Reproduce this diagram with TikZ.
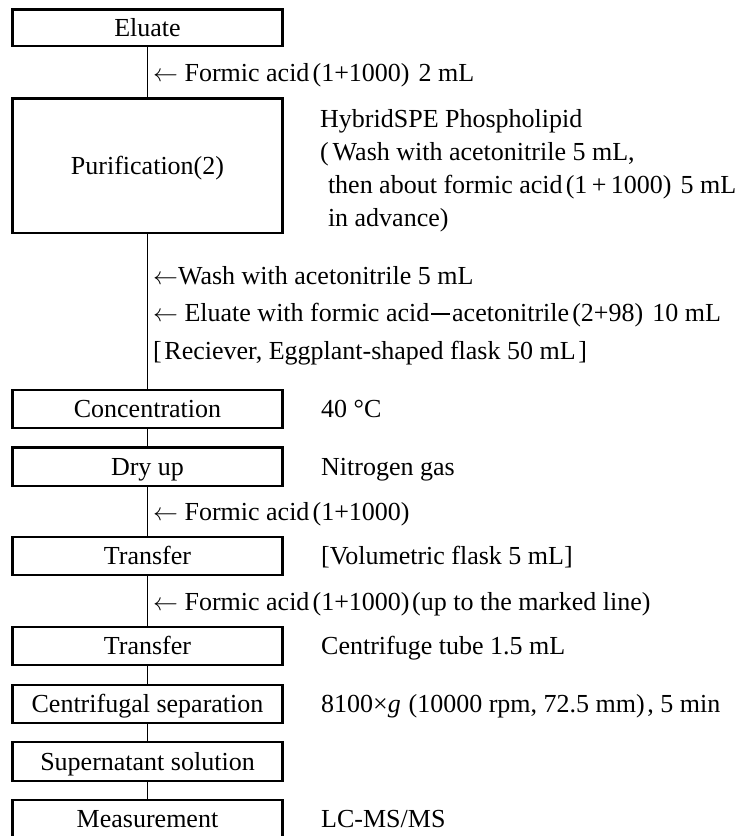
\documentclass[tikz,border=0pt]{standalone}
\usepackage{fontspec}
\setmainfont{Liberation Serif}
\newcommand{\lpar}{\hspace{0.12em}(}
\newcommand{\rpar}{)\hspace{0.35em}}
\newcommand{\larr}{$\leftarrow$}
\newcommand{\fwminus}{\hspace{0.08em}\rule[0.27em]{0.72em}{0.05em}\hspace{0.08em}}
\begin{document}
\begin{tikzpicture}[x=1pt,y=-1pt,
  every node/.style={font=\fontsize{26}{33}\selectfont, inner sep=0pt, text height=17.2pt, text depth=0pt},
  stepbox/.style={draw, line width=2.1pt, minimum width=270pt},
  note/.style={anchor=west},
  multiline/.style={anchor=north west, align=left, text height=, text depth=},
  conn/.style={line width=1.9pt}]
\useasboundingbox[fill=white] (0,0) rectangle (752,836);
\node[stepbox, minimum height=36.5pt] (eluate) at (147.5,27.75) {Eluate};
\node[stepbox, minimum height=134.5pt] (purif) at (147.5,165.75) {Purification(2)};
\node[stepbox, minimum height=38pt] (conc) at (147.5,409) {Concentration};
\node[stepbox, minimum height=38.5pt] (dry) at (147.5,466.75) {Dry up};
\node[stepbox, minimum height=38pt] (trans1) at (147.5,556) {Transfer};
\node[stepbox, minimum height=38pt] (trans2) at (147.5,646) {Transfer};
\node[stepbox, minimum height=38pt] (centri) at (147.5,704) {Centrifugal separation};
\node[stepbox, minimum height=39pt] (super) at (147.5,761.5) {Supernatant solution};
\node[stepbox, minimum height=38pt] (meas) at (147.5,819) {Measurement};

\draw[conn] (eluate) -- (purif);
\draw[conn] (purif) -- (conc);
\draw[conn] (conc) -- (dry);
\draw[conn] (dry) -- (trans1);
\draw[conn] (trans1) -- (trans2);
\draw[conn] (trans2) -- (centri);
\draw[conn] (centri) -- (super);
\draw[conn] (super) -- (meas);

\node[note] (add1) at (153,73) {\larr{} Formic acid\lpar 1+1000\rpar 2 mL};
\node[multiline, font=\fontsize{26}{33}\selectfont] (cart) at (320,109)
  {HybridSPE Phospholipid\\
   (\hspace{0.15em}Wash with acetonitrile 5 mL,\\
   \hspace{0.3em}then about formic acid\lpar 1\,+\,1000\rpar 5 mL\\
   \hspace{0.3em}in advance)};
\node[multiline, font=\fontsize{26}{37.5}\selectfont] (wash) at (153,266)
  {\larr Wash with acetonitrile 5 mL\\
   \larr{} Eluate with formic acid\fwminus acetonitrile\lpar 2+98\rpar 10 mL\\
   {[}\hspace{0.1em}Reciever, Eggplant-shaped flask 50 mL\hspace{0.1em}{]}};
\node[note] (temp) at (321,409) {40 °C};
\node[note] (gas) at (321,466.75) {Nitrogen gas};
\node[note] (add2) at (153,512) {\larr{} Formic acid\lpar 1+1000)};
\node[note] (flask) at (321,556) {{[}Volumetric flask 5 mL{]}};
\node[note] (add3) at (153,602) {\larr{} Formic acid\lpar 1+1000)\hspace{0.1em}(up to the marked line)};
\node[note] (tube) at (321,646) {Centrifuge tube 1.5 mL};
\node[note] (speed) at (321,704) {8100×\textit{g}\hspace{0.3em}(10000 rpm, 72.5 mm)\hspace{0.1em}, 5 min};
\node[note] (lcms) at (321,819) {LC-MS/MS};
\end{tikzpicture}
\end{document}
